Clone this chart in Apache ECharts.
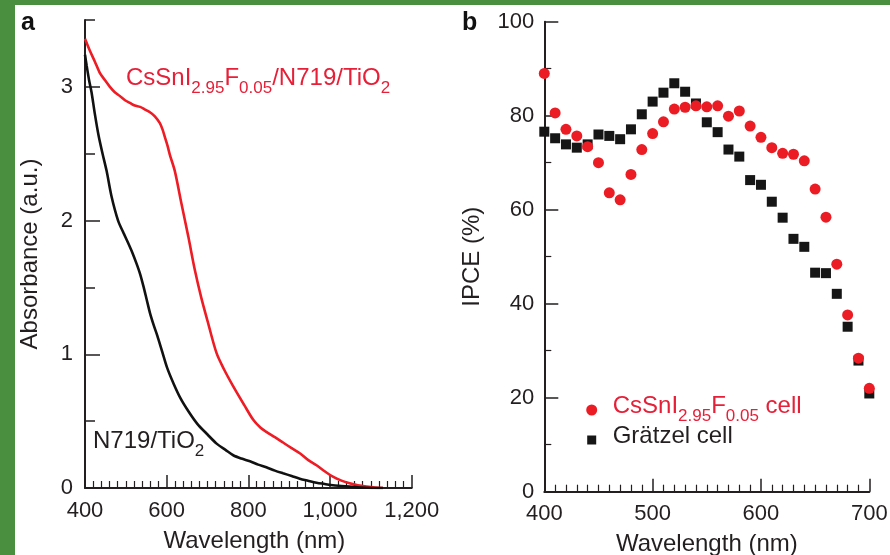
<!DOCTYPE html>
<html>
<head>
<meta charset="utf-8">
<script src="https://cdn.jsdelivr.net/npm/echarts@6/dist/echarts.min.js"></script>
<style>
  html, body { margin: 0; padding: 0; background: #fff; }
  #main { width: 890px; height: 555px; }
</style>
</head>
<body>
<div id="main"></div>
<script>
// panel a: absorbance spectra, wavelength (nm) / absorbance (a.u.)
const redAbsWl = [400, 412, 424, 437, 449, 461, 473, 486, 498, 510, 522, 535, 547, 559, 571, 583, 590, 596, 602, 608, 620, 636, 653, 669, 685, 700, 722, 740, 763, 790, 812, 830, 844, 865, 885, 905, 926, 946, 967, 987, 1007, 1028, 1048, 1068, 1089, 1110, 1130];
const redAbs = [3.36, 3.27, 3.19, 3.10, 3.05, 3.00, 2.96, 2.93, 2.90, 2.88, 2.86, 2.85, 2.83, 2.81, 2.78, 2.73, 2.68, 2.62, 2.56, 2.49, 2.37, 2.13, 1.88, 1.63, 1.42, 1.25, 1.01, 0.89, 0.76, 0.62, 0.51, 0.45, 0.42, 0.38, 0.34, 0.30, 0.26, 0.21, 0.17, 0.125, 0.085, 0.055, 0.035, 0.02, 0.01, 0.003, 0];
const blackAbsWl = [400, 404, 410, 416, 424, 433, 443, 453, 465, 481, 494, 506, 516, 526, 535, 543, 551, 559, 568, 577, 589, 601, 617, 634, 654, 675, 700, 723, 744, 763, 783, 804, 824, 844, 865, 885, 906, 926, 946, 967, 987, 1007, 1028, 1048, 1068, 1089, 1110, 1130];
const blackAbs = [3.24, 3.16, 3.05, 2.96, 2.80, 2.64, 2.50, 2.37, 2.18, 2.00, 1.91, 1.83, 1.76, 1.68, 1.60, 1.51, 1.41, 1.31, 1.22, 1.14, 1.02, 0.90, 0.78, 0.67, 0.57, 0.48, 0.40, 0.33, 0.285, 0.245, 0.22, 0.20, 0.175, 0.155, 0.13, 0.11, 0.09, 0.07, 0.055, 0.04, 0.03, 0.02, 0.015, 0.01, 0.005, 0.002, 0, 0];
const absYMajor = [0, 1, 2, 3];
const absYMinor = [0.5, 1.5, 2.5, 3.5];

// panel b: IPCE (%) vs wavelength (nm)
const ipceWl = [400, 410, 420, 430, 440, 450, 460, 470, 480, 490, 500, 510, 520, 530, 540, 550, 560, 570, 580, 590, 600, 610, 620, 630, 640, 650, 660, 670, 680, 690, 700];
const ipceCsSnI = [89.0, 80.6, 77.1, 75.7, 73.4, 70.0, 63.6, 62.1, 67.5, 72.8, 76.2, 78.7, 81.4, 81.8, 82.1, 81.9, 82.1, 79.9, 81.0, 77.8, 75.4, 73.2, 72.0, 71.8, 70.4, 64.4, 58.4, 48.4, 37.6, 28.4, 22.0];
const ipceGratzel = [76.6, 75.2, 73.9, 73.2, 73.9, 76.0, 75.7, 75.0, 77.1, 80.3, 83.0, 84.9, 86.9, 85.1, 82.6, 78.6, 76.5, 72.8, 71.3, 66.3, 65.3, 61.7, 58.3, 53.8, 52.1, 46.6, 46.5, 42.1, 35.1, 27.9, 20.9];

const ink = '#231f20';
const red = '#ee1c24';
const textRed = '#e62038';
const green = '#4a8e3f';
const fam = '"Liberation Sans", Arial, sans-serif';

function zip(xs, ys) {
  return xs.map(function (x, i) { return [x, ys[i]]; });
}

const chart = echarts.init(document.getElementById('main'));

const axisLine = { show: true, onZero: false, lineStyle: { color: ink, width: 2 } };
const labelStyle = { color: ink, fontSize: 22, fontFamily: fam };
const nameStyle = { color: ink, fontSize: 24, fontFamily: fam };

// main text + subscript
const richText = {
  m: { fontSize: 24, fontFamily: fam, lineHeight: 24, verticalAlign: 'top' },
  s: { fontSize: 17, fontFamily: fam, lineHeight: 17, verticalAlign: 'top', padding: [13, 0, 0, 0] }
};

const option = {
  animation: false,
  backgroundColor: '#fff',
  grid: [
    { left: 85, top: 20, width: 326.7, height: 468, outerBoundsMode: 'none' },
    { left: 544.3, top: 21.7, width: 325, height: 470, outerBoundsMode: 'none' }
  ],
  xAxis: [
    {
      gridIndex: 0, type: 'value', min: 400, max: 1200, interval: 200,
      axisLine: axisLine,
      axisTick: { inside: true, length: 13, lineStyle: { color: ink, width: 1.5 } },
      minorTick: { show: true, splitNumber: 10, length: 7, lineStyle: { color: ink, width: 1.2 } },
      splitLine: { show: false },
      axisLabel: Object.assign({ margin: 12, formatter: function (v) { return v.toLocaleString('en-US'); } }, labelStyle),
      name: 'Wavelength (nm)', nameLocation: 'middle', nameGap: 41,
      nameTextStyle: Object.assign({ padding: [0, 0, 0, 12] }, nameStyle)
    },
    {
      gridIndex: 1, type: 'value', min: 400, max: 700, interval: 100,
      axisLine: axisLine,
      axisTick: { inside: true, length: 13, lineStyle: { color: ink, width: 1.5 } },
      minorTick: { show: true, splitNumber: 10, length: 7, lineStyle: { color: ink, width: 1.2 } },
      splitLine: { show: false },
      axisLabel: Object.assign({ margin: 11 }, labelStyle),
      name: 'Wavelength (nm)', nameLocation: 'middle', nameGap: 41, nameTextStyle: nameStyle
    }
  ],
  yAxis: [
    {
      gridIndex: 0, type: 'value', min: 0, max: 3.5, interval: 0.5,
      axisLine: axisLine,
      axisTick: { inside: true, length: 15, customValues: absYMajor, lineStyle: { color: ink, width: 1.5 } },
      splitLine: { show: false },
      axisLabel: Object.assign({ margin: 12, customValues: absYMajor }, labelStyle),
      name: 'Absorbance (a.u.)', nameLocation: 'middle', nameGap: 43, nameRotate: 90, nameTextStyle: nameStyle
    },
    {
      gridIndex: 0, type: 'value', min: 0, max: 3.5, interval: 0.5, position: 'left',
      axisLine: { show: false },
      axisTick: { inside: true, length: 10, customValues: absYMinor, lineStyle: { color: ink, width: 1.5 } },
      splitLine: { show: false },
      axisLabel: { show: false }
    },
    {
      gridIndex: 1, type: 'value', min: 0, max: 100, interval: 20,
      axisLine: axisLine,
      axisTick: { inside: true, length: 14, lineStyle: { color: ink, width: 1.5 } },
      minorTick: { show: true, splitNumber: 2, length: 7, lineStyle: { color: ink, width: 1.2 } },
      splitLine: { show: false },
      axisLabel: Object.assign({ margin: 10 }, labelStyle),
      name: 'IPCE (%)', nameLocation: 'middle', nameGap: 60, nameRotate: 90, nameTextStyle: nameStyle
    }
  ],
  series: [
    {
      name: 'CsSnI2.95F0.05/N719/TiO2', type: 'line', xAxisIndex: 0, yAxisIndex: 0,
      data: zip(redAbsWl, redAbs), showSymbol: false, smooth: 0.3,
      lineStyle: { color: red, width: 2.6 }
    },
    {
      name: 'N719/TiO2', type: 'line', xAxisIndex: 0, yAxisIndex: 0,
      data: zip(blackAbsWl, blackAbs), showSymbol: false, smooth: 0.3,
      lineStyle: { color: '#111', width: 2.6 }
    },
    {
      name: 'Grätzel cell', type: 'scatter', xAxisIndex: 1, yAxisIndex: 2,
      data: zip(ipceWl, ipceGratzel), symbol: 'rect', symbolSize: 10,
      itemStyle: { color: '#161616', opacity: 1 }
    },
    {
      name: 'CsSnI2.95F0.05 cell', type: 'scatter', xAxisIndex: 1, yAxisIndex: 2,
      data: zip(ipceWl, ipceCsSnI), symbol: 'circle', symbolSize: 11,
      itemStyle: { color: '#ec1c24', opacity: 1 }
    }
  ],
  graphic: [
    { type: 'rect', shape: { x: 0, y: 0, width: 15, height: 555 }, style: { fill: green }, z: 100 },
    { type: 'rect', shape: { x: 0, y: 0, width: 890, height: 5 }, style: { fill: green }, z: 100 },
    { type: 'text', x: 21, y: 36, style: { text: 'a', fill: '#111', font: 'bold 25px ' + fam, verticalAlign: 'bottom' } },
    { type: 'text', x: 462, y: 36, style: { text: 'b', fill: '#111', font: 'bold 25px ' + fam, verticalAlign: 'bottom' } },
    {
      type: 'text', x: 126, y: 66.5,
      style: { text: '{m|CsSnI}{s|2.95}{m|F}{s|0.05}{m|/N719/TiO}{s|2}', rich: richText, fill: textRed, verticalAlign: 'top' }
    },
    {
      type: 'text', x: 93, y: 429.5,
      style: { text: '{m|N719/TiO}{s|2}', rich: richText, fill: ink, verticalAlign: 'top' }
    },
    { type: 'circle', shape: { cx: 591.7, cy: 410, r: 5.5 }, style: { fill: '#ec1c24' } },
    { type: 'rect', shape: { x: 587.2, y: 435.5, width: 9, height: 9 }, style: { fill: '#161616' } },
    {
      type: 'text', x: 612.7, y: 394.5,
      style: { text: '{m|CsSnI}{s|2.95}{m|F}{s|0.05}{m| cell}', rich: richText, fill: textRed, verticalAlign: 'top' }
    },
    {
      type: 'text', x: 612.7, y: 424.5,
      style: { text: '{m|Grätzel cell}', rich: richText, fill: ink, verticalAlign: 'top' }
    }
  ]
};

chart.setOption(option);
</script>
</body>
</html>
